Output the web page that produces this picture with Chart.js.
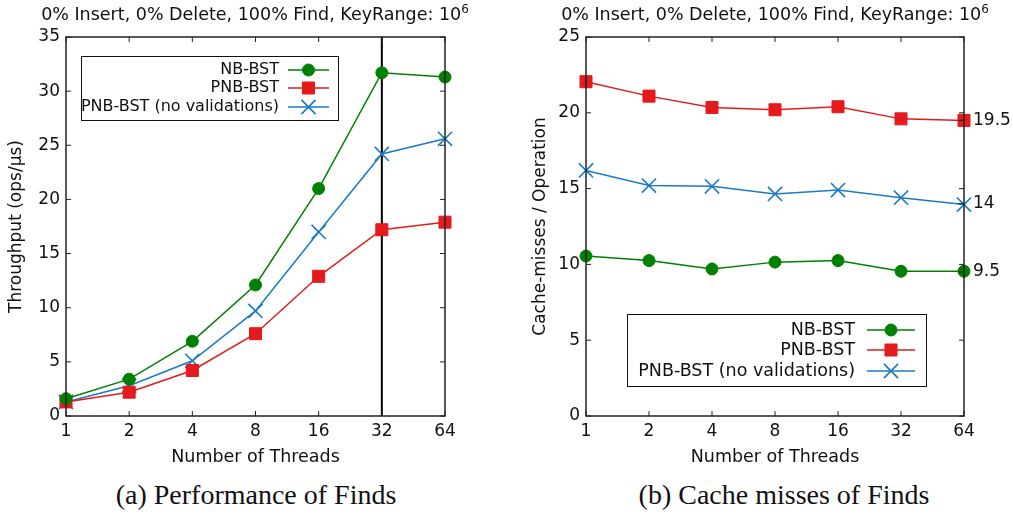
<!DOCTYPE html>
<html>
<head>
<meta charset="utf-8">
<script src="https://cdn.jsdelivr.net/npm/chart.js@4/dist/chart.umd.min.js"></script>
<style>
  body { margin: 0; background: #fff; width: 1013px; height: 516px; position: relative; overflow: hidden; }
  .box { position: absolute; top: 0; height: 470px; }
  .title { position: absolute; top: 4px; font: 17.5px 'DejaVu Sans'; color: #111; white-space: nowrap; transform: translateX(-50%); }
  .title sup { font-size: 12px; vertical-align: 7px; line-height: 0; }
  .caption { position: absolute; top: 479px; font: 28px 'Liberation Serif'; color: #111; white-space: nowrap; transform: translateX(-50%); }
</style>
</head>
<body>
<div class="box" style="left:0;width:510px"><canvas id="perfChart"></canvas></div>
<div class="box" style="left:520px;width:493px"><canvas id="missChart"></canvas></div>
<div class="title" style="left:255px">0% Insert, 0% Delete, 100% Find, KeyRange: 10<sup>6</sup></div>
<div class="title" style="left:775px">0% Insert, 0% Delete, 100% Find, KeyRange: 10<sup>6</sup></div>
<div class="caption" style="left:256px">(a) Performance of Finds</div>
<div class="caption" style="left:784px">(b) Cache misses of Finds</div>
<script>
// data
const threads = ['1', '2', '4', '8', '16', '32', '64'];
const seriesNames = ['NB-BST', 'PNB-BST', 'PNB-BST (no validations)'];

const nbThroughput = [1.6, 3.4, 6.9, 12.1, 21.0, 31.7, 31.3];
const pnbThroughput = [1.3, 2.2, 4.2, 7.6, 12.9, 17.2, 17.9];
const pnbNoValThroughput = [1.3, 2.8, 5.1, 9.7, 17.0, 24.2, 25.6];

const nbMisses = [10.55, 10.25, 9.7, 10.15, 10.25, 9.55, 9.55];
const pnbMisses = [22.05, 21.1, 20.35, 20.2, 20.4, 19.6, 19.5];
const pnbNoValMisses = [16.2, 15.2, 15.15, 14.65, 14.9, 14.4, 13.95];
const missRightTicks = [9.5, 14, 19.5];

const markerThreads = '32';

Chart.defaults.font.family = 'DejaVu Sans';
Chart.defaults.font.size = 16;
Chart.defaults.color = '#111';

const styles = [
  { color: '#008000', pointStyle: 'circle', radius: 6, borderWidth: 1 },
  { color: '#e41a1c', pointStyle: 'rect', radius: 8.5, borderWidth: 1 },
  { color: '#1a7bc3', pointStyle: 'crossRot', radius: 10, borderWidth: 1.6 }
];

const makeDatasets = (seriesList) => seriesList.map((values, i) => ({
  label: seriesNames[i],
  data: values,
  borderColor: styles[i].color,
  backgroundColor: styles[i].color,
  pointBackgroundColor: styles[i].color,
  pointBorderColor: styles[i].color,
  pointStyle: styles[i].pointStyle,
  pointRadius: styles[i].radius,
  pointHoverRadius: styles[i].radius,
  pointBorderWidth: styles[i].borderWidth,
  borderWidth: 1.5,
  tension: 0,
  fill: false
}));

// matplotlib-like frame with inward ticks
const frameTicks = {
  id: 'frameTicks',
  afterDraw(chart) {
    const { ctx, chartArea: a, scales } = chart;
    ctx.save();
    ctx.strokeStyle = '#222';
    ctx.lineWidth = 1;
    ctx.beginPath();
    scales.x.ticks.forEach((t, i) => {
      const px = scales.x.getPixelForTick(i);
      ctx.moveTo(px, a.bottom); ctx.lineTo(px, a.bottom - 5);
      ctx.moveTo(px, a.top); ctx.lineTo(px, a.top + 5);
    });
    scales.y.ticks.forEach((t, i) => {
      const py = scales.y.getPixelForTick(i);
      ctx.moveTo(a.left, py); ctx.lineTo(a.left + 5, py);
      ctx.moveTo(a.right, py); ctx.lineTo(a.right - 5, py);
    });
    if (scales.y2) {
      scales.y2.ticks.forEach((t, i) => {
        const py = scales.y2.getPixelForTick(i);
        ctx.moveTo(a.right, py); ctx.lineTo(a.right - 6, py);
      });
    }
    ctx.stroke();
    ctx.lineWidth = 1.5;
    ctx.strokeRect(a.left, a.top, a.width, a.height);
    ctx.restore();
  }
};

// vertical marker line, drawn under the series
const markerLine = {
  id: 'markerLine',
  beforeDatasetsDraw(chart, args, opts) {
    if (!opts.label) return;
    const { ctx, chartArea: a, scales } = chart;
    const px = scales.x.getPixelForValue(threads.indexOf(opts.label));
    ctx.save();
    ctx.strokeStyle = '#000';
    ctx.lineWidth = 2;
    ctx.beginPath();
    ctx.moveTo(px, a.top); ctx.lineTo(px, a.bottom);
    ctx.stroke();
    ctx.restore();
  }
};

// legend box: label first, then line + marker
const boxLegend = {
  id: 'boxLegend',
  afterDraw(chart, args, o) {
    const { ctx } = chart;
    ctx.save();
    ctx.fillStyle = '#fff';
    ctx.fillRect(o.x, o.y, o.w, o.h);
    ctx.strokeStyle = '#111';
    ctx.lineWidth = 1;
    ctx.strokeRect(o.x + 0.5, o.y + 0.5, o.w, o.h);
    ctx.font = o.fontSize + 'px DejaVu Sans';
    ctx.textAlign = 'right';
    ctx.textBaseline = 'middle';
    chart.data.datasets.forEach((ds, i) => {
      const y = o.rows[i];
      ctx.fillStyle = '#111';
      ctx.fillText(ds.label, o.textRight, y);
      ctx.strokeStyle = ds.borderColor;
      ctx.lineWidth = 1.5;
      ctx.beginPath();
      ctx.moveTo(o.line[0], y); ctx.lineTo(o.line[1], y);
      ctx.stroke();
      ctx.fillStyle = ds.pointBackgroundColor;
      ctx.lineWidth = ds.pointBorderWidth;
      Chart.helpers.drawPoint(ctx, {
        pointStyle: ds.pointStyle, radius: ds.pointRadius,
        borderWidth: ds.pointBorderWidth, rotation: 0
      }, (o.line[0] + o.line[1]) / 2, y);
    });
    ctx.restore();
  }
};

const xScale = () => ({
  type: 'category',
  offset: false,
  grid: { display: false, drawTicks: false },
  border: { display: false },
  ticks: { padding: 5, font: { size: 17 }, maxRotation: 0, autoSkip: false },
  title: { display: true, text: 'Number of Threads', font: { size: 17.5 }, padding: { top: 0, bottom: 2 } },
  afterFit: (s) => { s.height = 54; }
});

new Chart(document.getElementById('perfChart'), {
  type: 'line',
  data: { labels: threads, datasets: makeDatasets([nbThroughput, pnbThroughput, pnbNoValThroughput]) },
  options: {
    responsive: true,
    maintainAspectRatio: false,
    animation: false,
    layout: { padding: { left: 0, top: 37, right: 65, bottom: 0 } },
    scales: {
      x: xScale(),
      y: {
        min: 0, max: 35,
        grid: { display: false, drawTicks: false },
        border: { display: false },
        ticks: { stepSize: 5, padding: 6, font: { size: 17 } },
        title: { display: true, text: 'Throughput (ops/µs)', font: { size: 17 }, padding: { top: 6, bottom: 0 } },
        afterFit: (s) => { s.width = 66; }
      }
    },
    plugins: {
      legend: { display: false },
      tooltip: { enabled: false },
      markerLine: { label: markerThreads },
      boxLegend: { x: 81, y: 56, w: 257, h: 64, rows: [70, 88, 107], textRight: 279, line: [288, 329], fontSize: 16 }
    }
  },
  plugins: [markerLine, frameTicks, boxLegend]
});

new Chart(document.getElementById('missChart'), {
  type: 'line',
  data: { labels: threads, datasets: makeDatasets([nbMisses, pnbMisses, pnbNoValMisses]) },
  options: {
    responsive: true,
    maintainAspectRatio: false,
    animation: false,
    layout: { padding: { left: 0, top: 37, right: 0, bottom: 0 } },
    scales: {
      x: xScale(),
      y: {
        min: 0, max: 25,
        grid: { display: false, drawTicks: false },
        border: { display: false },
        ticks: { stepSize: 5, padding: 6, font: { size: 17 } },
        title: { display: true, text: 'Cache-misses / Operation', font: { size: 17 }, padding: { top: 10, bottom: 0 } },
        afterFit: (s) => { s.width = 66; }
      },
      y2: {
        position: 'right',
        min: 0, max: 25,
        grid: { display: false, drawTicks: false },
        border: { display: false },
        afterBuildTicks: (s) => { s.ticks = missRightTicks.map(v => ({ value: v })); },
        ticks: { padding: 9, font: { size: 17 }, callback: (v) => String(v) },
        afterFit: (s) => { s.width = 49; }
      }
    },
    plugins: {
      legend: { display: false },
      tooltip: { enabled: false },
      markerLine: { label: null },
      boxLegend: { x: 107, y: 314, w: 299, h: 72, rows: [330, 350, 371], textRight: 335, line: [347, 395], fontSize: 17.5 }
    }
  },
  plugins: [markerLine, frameTicks, boxLegend]
});
</script>
</body>
</html>
